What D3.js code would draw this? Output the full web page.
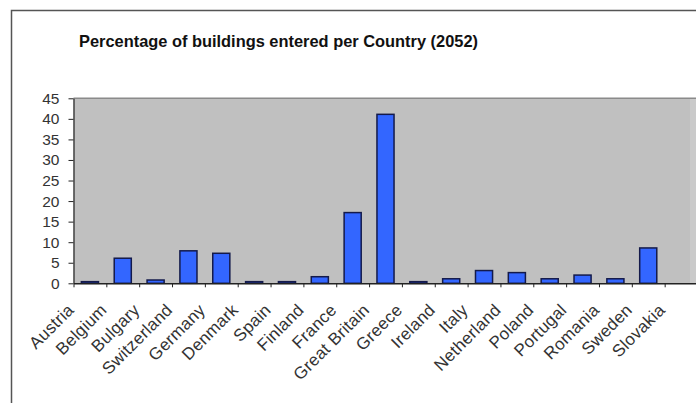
<!DOCTYPE html>
<html>
<head>
<meta charset="utf-8">
<script src="https://cdn.jsdelivr.net/npm/d3@7"></script>
<style>
  body { margin: 0; background: #fff; }
  svg { display: block; font-family: "Liberation Sans", Arial, sans-serif; }
</style>
</head>
<body>
<div id="chart"></div>
<script>
// Chart data.
const chartTitle = "Percentage of buildings entered per Country (2052)";
const countries = ["Austria", "Belgium", "Bulgary", "Switzerland", "Germany", "Denmark", "Spain",
  "Finland", "France", "Great Britain", "Greece", "Ireland", "Italy", "Netherland", "Poland",
  "Portugal", "Romania", "Sweden", "Slovakia"];
const percentages = [0.4, 6.1, 0.8, 7.9, 7.3, 0.4, 0.4, 1.6, 17.2, 41.1, 0.4, 1.1, 3.1, 2.6, 1.1,
  2.0, 1.1, 8.6, 0];
const yTicks = [0, 5, 10, 15, 20, 25, 30, 35, 40, 45];

const data = countries.map((c, i) => ({ country: c, value: percentages[i] }));

const width = 696, height = 403;
const plot = { left: 73.5, right: 697.5, top: 98.3, bottom: 283.3 };

const svg = d3.select("#chart").append("svg")
  .attr("width", width)
  .attr("height", height);

// Outer chart frame (only left and top edges are visible in the crop).
svg.append("path")
  .attr("d", `M11.5,${height}V10.5H${width}`)
  .attr("fill", "none")
  .attr("stroke", "#555")
  .attr("stroke-width", 1.5);

// Title
svg.append("text")
  .attr("x", 278.5)
  .attr("y", 47)
  .attr("text-anchor", "middle")
  .attr("font-size", "16.4px")
  .attr("font-weight", "bold")
  .attr("fill", "#111")
  .text(chartTitle);

// Scales
const x = d3.scaleBand()
  .domain(countries)
  .range([plot.left, plot.right])
  .paddingInner(0.48)
  .paddingOuter(0.24);

const y = d3.scaleLinear()
  .domain([0, 45])
  .range([plot.bottom, plot.top]);

// Plot area background
svg.append("rect")
  .attr("x", plot.left)
  .attr("y", plot.top)
  .attr("width", 690 - plot.left)
  .attr("height", plot.bottom - plot.top)
  .attr("fill", "#c0c0c0");

svg.append("rect")
  .attr("x", 690)
  .attr("y", plot.top)
  .attr("width", width - 690)
  .attr("height", plot.bottom - plot.top)
  .attr("fill", "#cacaca");

svg.append("line")
  .attr("x1", plot.left).attr("x2", width)
  .attr("y1", plot.top).attr("y2", plot.top)
  .attr("stroke", "#8a8a8a")
  .attr("stroke-width", 1.5);

// Bars
svg.selectAll(".bar")
  .data(data.filter(d => d.value > 0))
  .enter().append("rect")
  .attr("class", "bar")
  .attr("x", d => x(d.country))
  .attr("y", d => y(d.value))
  .attr("width", x.bandwidth())
  .attr("height", d => y(0) - y(d.value))
  .attr("fill", "#3366ff")
  .attr("stroke", "#141a4a")
  .attr("stroke-width", 1.5);

// Y axis
const yAxis = svg.append("g")
  .attr("transform", `translate(${plot.left},0)`)
  .call(d3.axisLeft(y).tickValues(yTicks).tickSize(5).tickPadding(9).tickSizeOuter(0));
yAxis.select(".domain").attr("stroke", "#222").attr("stroke-width", 1.2);
yAxis.selectAll(".tick line").attr("stroke", "#222");
yAxis.selectAll("text")
  .attr("font-size", "15.5px")
  .attr("font-family", "Liberation Sans, Arial, sans-serif")
  .attr("fill", "#333");

// X axis: ticks at category boundaries
const xBound = d3.scaleLinear()
  .domain([0, countries.length])
  .range([plot.left, plot.left + x.step() * countries.length]);
const xAxis = svg.append("g")
  .attr("transform", `translate(0,${plot.bottom})`)
  .call(d3.axisBottom(xBound).tickValues(d3.range(0, countries.length + 1))
    .tickFormat("").tickSize(4).tickSizeOuter(0));
xAxis.select(".domain").attr("stroke", "#222").attr("stroke-width", 1.5);
xAxis.selectAll(".tick line").attr("stroke", "#222");

// Rotated category labels
svg.selectAll(".xlabel")
  .data(countries)
  .enter().append("text")
  .attr("class", "xlabel")
  .attr("text-anchor", "end")
  .attr("font-size", "17px")
  .attr("letter-spacing", "0.3px")
  .attr("fill", "#333")
  .attr("transform", d => `translate(${x(d) + x.bandwidth() / 2 - 15},${311}) rotate(-45)`)
  .text(d => d);
</script>
</body>
</html>
